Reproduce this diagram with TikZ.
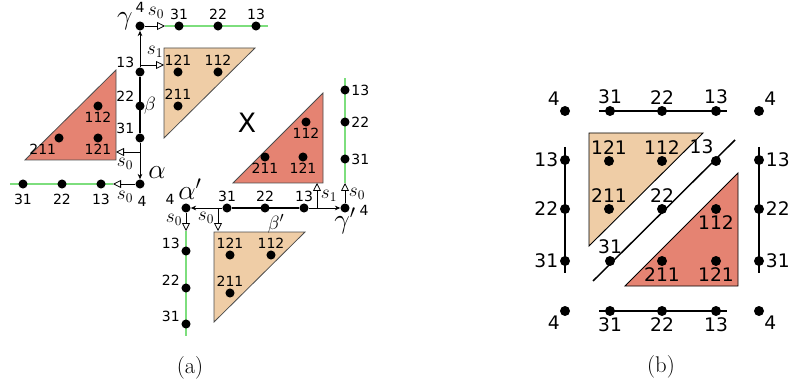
\documentclass[tikz,border=0pt]{standalone}
\usepackage{fontspec}
\newfontfamily\dejavu{DejaVu Sans}
\usetikzlibrary{positioning,arrows.meta}
\definecolor{redfill}{RGB}{229,131,114}
\definecolor{beigefill}{RGB}{239,205,166}
\definecolor{pathgreen}{RGB}{125,222,125}

\begin{document}
\begin{tikzpicture}[
  x=0.75pt, y=-0.75pt,
  dot/.style={circle, fill=black, inner sep=0pt, minimum size=6.8pt},
  bdot/.style={circle, fill=black, inner sep=0pt, minimum size=7.5pt},
  num/.style={font=\dejavu\fontsize{10.5}{12}\selectfont, inner sep=1pt},
  bnum/.style={font=\dejavu\fontsize{14}{16}\selectfont, inner sep=1pt},
  glab/.style={font=\fontsize{22}{26}\selectfont, inner sep=0pt},
  blab/.style={font=\fontsize{15}{18}\selectfont, inner sep=0pt},
  slab/.style={font=\fontsize{14}{17}\selectfont, inner sep=0pt},
  arr/.style={-{Stealth[length=4pt, width=3.5pt]}, line width=0.6pt},
  sarr/.style={-{Triangle[open, length=6pt, width=6pt]}, line width=0.6pt},
  gline/.style={draw=pathgreen, line width=1.6pt},
  bline/.style={line width=2pt},
  tri/.style={draw=black!70, line width=0.6pt},
  btri/.style={draw=black, line width=0.7pt},
  bedge/.style={line width=1.1pt},
  subcap/.style={font=\fontsize{17}{20}\selectfont}
]
\useasboundingbox (0,0) rectangle (791,388);
% (a): triangles
\coordinate (la1) at (25,160);
\coordinate (la2) at (116,70);
\coordinate (la3) at (116,160);
\draw[tri, fill=redfill] (la1) -- (la2) -- (la3) -- cycle;
\coordinate (ua1) at (164,48);
\coordinate (ua2) at (255,48);
\coordinate (ua3) at (164,138);
\draw[tri, fill=beigefill] (ua1) -- (ua2) -- (ua3) -- cycle;
\coordinate (ra1) at (233,183);
\coordinate (ra2) at (323,93);
\coordinate (ra3) at (323,183);
\draw[tri, fill=redfill] (ra1) -- (ra2) -- (ra3) -- cycle;
\coordinate (da1) at (214,232);
\coordinate (da2) at (305,232);
\coordinate (da3) at (214,322);
\draw[tri, fill=beigefill] (da1) -- (da2) -- (da3) -- cycle;
\node[dot, label distance=1.5pt, label={[num]above:121}] (ua121) at (178,72) {};
\node[dot, label distance=1.5pt, label={[num]above:112}] (ua112) at (218,72) {};
\node[dot, label distance=1pt, label={[num]above:211}] (ua211) at (178,106) {};
\node[dot, label distance=1.5pt, label={[num]below:112}] (la112) at (98,106) {};
\node[dot, label distance=1.5pt, label={[num]255:211}] (la211) at (59,138) {};
\node[dot, label distance=1.5pt, label={[num]below:121}] (la121) at (98,138) {};
\node[dot, label distance=1pt, label={[num]below:112}] (ra112) at (306,122) {};
\node[dot, label distance=3pt, label={[num]below:211}] (ra211) at (265,157) {};
\node[dot, label distance=0.5pt, label={[num]below:121}] (ra121) at (303,157) {};
\node[dot, label distance=2pt, label={[num]above:121}] (da121) at (230,255) {};
\node[dot, label distance=2pt, label={[num]above:112}] (da112) at (271,255) {};
\node[dot, label distance=4pt, label={[num]above:211}] (da211) at (230,293) {};
\node[font=\dejavu\fontsize{20}{24}\selectfont] (xmark) at (247,123) {X};
% gamma and its row
\coordinate (gamhead) at (165,26);
\coordinate (topend) at (268,26);
\draw[gline] (gamhead) -- (topend);
\foreach \x/\t in {179/31, 218/22, 256/13}
  \node[dot, label distance=3pt, label={[num]above:\t}] (top\t) at (\x,26) {};
\node[dot] (gam) at (140,26) {};
\node[num] (gamfour) at (140,7) {4};
\node[glab] (gamname) at (125,21) {$\gamma$};
\node[slab] (gams) at (156,13) {$s_0$};
\draw[sarr] (gam) -- (gamhead);
% beta column
\foreach \y/\t in {72/13, 106/22, 138/31}
  \node[dot, label distance=2pt, label={[num]150:\t}] (col\t) at (140,\y) {};
\node[dot] (alp) at (140,184) {};
\draw[bline] (col13) -- (col31);
\draw[arr] (col13) -- (gam);
\draw[arr] (col31) -- (alp);
\node[blab] (betname) at (150,106) {$\beta$};
\coordinate (sa) at (140,65);
\coordinate (sb) at (164,65);
\draw[sarr] (sa) -- (sb);
\node[slab] (saname) at (155,52) {$s_1$};
\coordinate (sc) at (140,152);
\coordinate (sd) at (116,152);
\draw[sarr] (sc) -- (sd);
\node[slab] (scname) at (125,164) {$s_0$};
% alpha and its row
\coordinate (alphead) at (113,184);
\coordinate (leftend) at (10,184);
\draw[gline] (alphead) -- (leftend);
\foreach \x/\t in {101/13, 62/22, 23/31}
  \node[dot, label distance=5pt, label={[num, yshift=-3pt]below:\t}] (left\t) at (\x,184) {};
\draw[sarr] (alp) -- (alphead);
\node[num] (alpfour) at (142,201) {4};
\node[slab] (alps) at (125,197) {$s_0$};
\node[glab] (alpname) at (157,173) {$\alpha$};
% alpha' row
\node[dot] (alq) at (186,208) {};
\node[dot] (gaq) at (345,208) {};
\foreach \x/\t in {227/31, 265/22, 304/13}
  \node[dot, label distance=1pt, label={[num]above:\t}] (mid\t) at (\x,208) {};
\draw[bline] (mid31) -- (mid13);
\draw[arr] (mid31) -- (alq);
\draw[arr] (mid13) -- (gaq);
\node[blab] (betqname) at (276,224) {$\beta'$};
\coordinate (se) at (317,208);
\coordinate (sf) at (317,183);
\draw[sarr] (se) -- (sf);
\node[slab] (sename) at (329,196) {$s_1$};
\coordinate (sg) at (218,208);
\coordinate (sh) at (218,231);
\draw[sarr] (sg) -- (sh);
\node[slab] (sgname) at (206,218) {$s_0$};
% alpha' column
\coordinate (alqhead) at (186,231);
\coordinate (downend) at (186,336);
\draw[gline] (alqhead) -- (downend);
\foreach \y/\t in {251/13, 288/22, 324/31}
  \node[dot, label distance=1pt, label={[num]170:\t}] (down\t) at (186,\y) {};
\draw[sarr] (alq) -- (alqhead);
\node[num] (alqfour) at (170,199) {4};
\node[slab] (alqs) at (174,220) {$s_0$};
\node[glab] (alqname) at (190,189) {$\alpha'$};
% gamma' column
\coordinate (gaqhead) at (345,183);
\coordinate (upend) at (345,78);
\draw[gline] (gaqhead) -- (upend);
\foreach \y/\t in {90/13, 122/22, 159/31}
  \node[dot, label distance=0.5pt, label={[num]right:\t}] (up\t) at (345,\y) {};
\draw[sarr] (gaq) -- (gaqhead);
\node[slab] (gaqs) at (357,194) {$s_0$};
\node[glab] (gaqname) at (345,221) {$\gamma'$};
\node[num] (gaqfour) at (364,210) {4};
\node[subcap] (capa) at (190,368) {(a)};
% (b)
\coordinate (bt1) at (589,133);
\coordinate (bt2) at (703,133);
\coordinate (bt3) at (589,246);
\draw[btri, fill=beigefill] (bt1) -- (bt2) -- (bt3) -- cycle;
\coordinate (rt1) at (625,286);
\coordinate (rt2) at (738,173);
\coordinate (rt3) at (738,286);
\draw[btri, fill=redfill] (rt1) -- (rt2) -- (rt3) -- cycle;
\node[bdot, label distance=2.5pt, label={[bnum]above:121}] (bt121) at (609,161) {};
\node[bdot, label distance=2.5pt, label={[bnum]above:112}] (bt112) at (662,161) {};
\node[bdot, label distance=2.5pt, label={[bnum]above:211}] (bt211) at (609,209) {};
\node[bdot, label distance=4.5pt, label={[bnum]below:112}] (rt112) at (716,209) {};
\node[bdot, label distance=2pt, label={[bnum]below:211}] (rt211) at (662,261) {};
\node[bdot, label distance=2pt, label={[bnum]below:121}] (rt121) at (716,261) {};
% edges of the square
\coordinate (tl) at (599,111);
\coordinate (tr) at (727,111);
\coordinate (bl) at (599,311);
\coordinate (br) at (727,311);
\coordinate (lt) at (565,147);
\coordinate (lb) at (565,273);
\coordinate (rtop) at (759,147);
\coordinate (rbot) at (759,273);
\coordinate (dgl) at (593,281);
\coordinate (dgr) at (735,140);
\draw[bedge] (tl) -- (tr);
\draw[bedge] (bl) -- (br);
\draw[bedge] (lt) -- (lb);
\draw[bedge] (rtop) -- (rbot);
\draw[bedge] (dgl) -- (dgr);
\foreach \x/\t in {610/31, 662/22, 716/13} {
  \node[bdot, label distance=4pt, label={[bnum]above:\t}] (btop\t) at (\x,111) {};
  \node[bdot, label distance=2.5pt, label={[bnum]below:\t}] (bbot\t) at (\x,311) {};
}
\foreach \y/\t in {160/13, 209/22, 261/31} {
  \node[bdot, label distance=3pt, label={[bnum]left:\t}] (bleft\t) at (565,\y) {};
  \node[bdot, label distance=2pt, label={[bnum]right:\t}] (bright\t) at (759,\y) {};
}
\node[bdot, label distance=2.5pt, label={[bnum]above:31}] (bdg31) at (610,261) {};
\node[bdot, label distance=2.5pt, label={[bnum]above:22}] (bdg22) at (662,209) {};
\node[bdot, label distance=2pt, label={[bnum]100:13}] (bdg13) at (716,161) {};
\node[bdot, label distance=1pt, label={[bnum]135:4}] (bc1) at (565,111) {};
\node[bdot, label distance=1pt, label={[bnum]45:4}] (bc2) at (759,111) {};
\node[bdot, label distance=1pt, label={[bnum]225:4}] (bc3) at (565,311) {};
\node[bdot, label distance=1pt, label={[bnum]-45:4}] (bc4) at (759,311) {};
\node[subcap] (capb) at (661,367) {(b)};
\end{tikzpicture}
\end{document}
